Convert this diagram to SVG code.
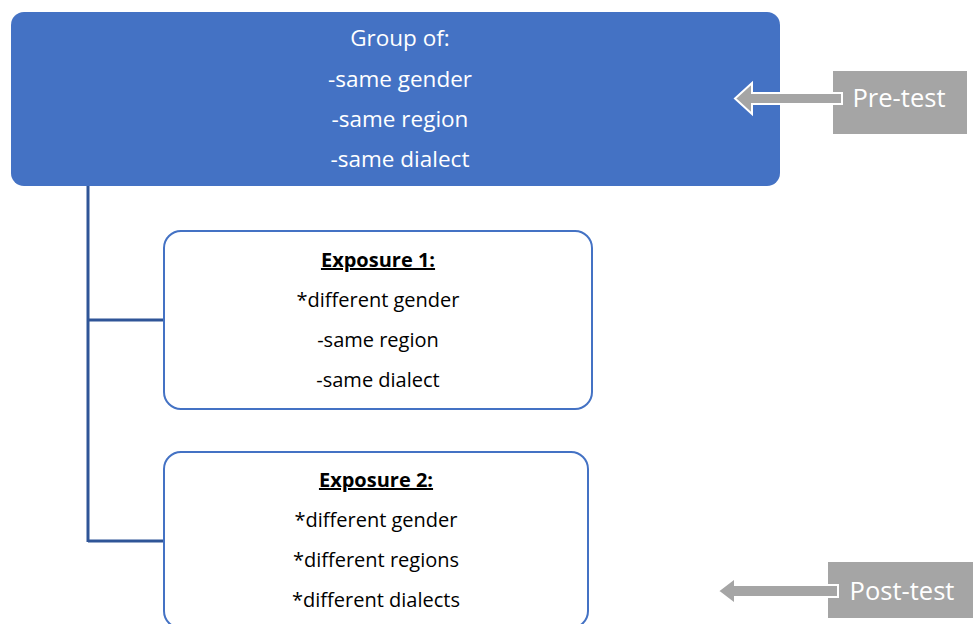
<svg xmlns="http://www.w3.org/2000/svg" width="973" height="624" viewBox="0 0 973 624">
  <style>
    .t { font-family: "Open Sans", "Liberation Sans", sans-serif; font-size: 20px; text-anchor: middle; }
    .g { font-size: 22.5px; }
    .l { font-size: 25.5px; }
    .w { fill: #ffffff; }
    .k { fill: #000000; }
    .h { font-weight: bold; text-decoration: underline; }
    .box { fill: #ffffff; stroke: #4472C4; stroke-width: 2; }
    .tag { fill: #A5A5A5; }
    .arr { fill: #A5A5A5; stroke: #ffffff; stroke-width: 2; }
  </style>

  <g id="connectors" stroke="#2F5597" stroke-width="3" fill="none">
    <line x1="88" y1="186" x2="88" y2="542"/>
    <line x1="88" y1="320" x2="164" y2="320"/>
    <line x1="88" y1="541" x2="164" y2="541"/>
  </g>

  <g id="group">
    <rect x="11" y="12" width="769" height="174" rx="13" fill="#4472C4"/>
    <text class="t g w" x="400" y="46">Group of:</text>
    <text class="t g w" x="400" y="87">-same gender</text>
    <text class="t g w" x="400" y="127">-same region</text>
    <text class="t g w" x="400" y="167">-same dialect</text>
  </g>

  <g id="exposure1">
    <rect class="box" x="164" y="231" width="428" height="178" rx="17"/>
    <text class="t k h" x="378" y="267">Exposure 1:</text>
    <text class="t k" x="378" y="307">*different gender</text>
    <text class="t k" x="378" y="347">-same region</text>
    <text class="t k" x="378" y="387">-same dialect</text>
  </g>

  <g id="exposure2">
    <rect class="box" x="164" y="452" width="424" height="176" rx="17"/>
    <text class="t k h" x="376" y="487">Exposure 2:</text>
    <text class="t k" x="376" y="527">*different gender</text>
    <text class="t k" x="376" y="567">*different regions</text>
    <text class="t k" x="376" y="607">*different dialects</text>
  </g>

  <g id="pretest">
    <rect class="tag" x="833" y="71" width="134" height="63"/>
    <path class="arr" d="M842,93 L752,93 L752,83 L735,98.5 L752,114 L752,104 L842,104 Z"/>
    <text class="t l w" x="899" y="107">Pre-test</text>
  </g>

  <g id="posttest">
    <rect class="tag" x="828" y="562" width="145" height="56"/>
    <path class="arr" d="M838,585 L735,585 L735,578 L718,591 L735,604 L735,597 L838,597 Z"/>
    <text class="t l w" x="902" y="600">Post-test</text>
  </g>
</svg>
